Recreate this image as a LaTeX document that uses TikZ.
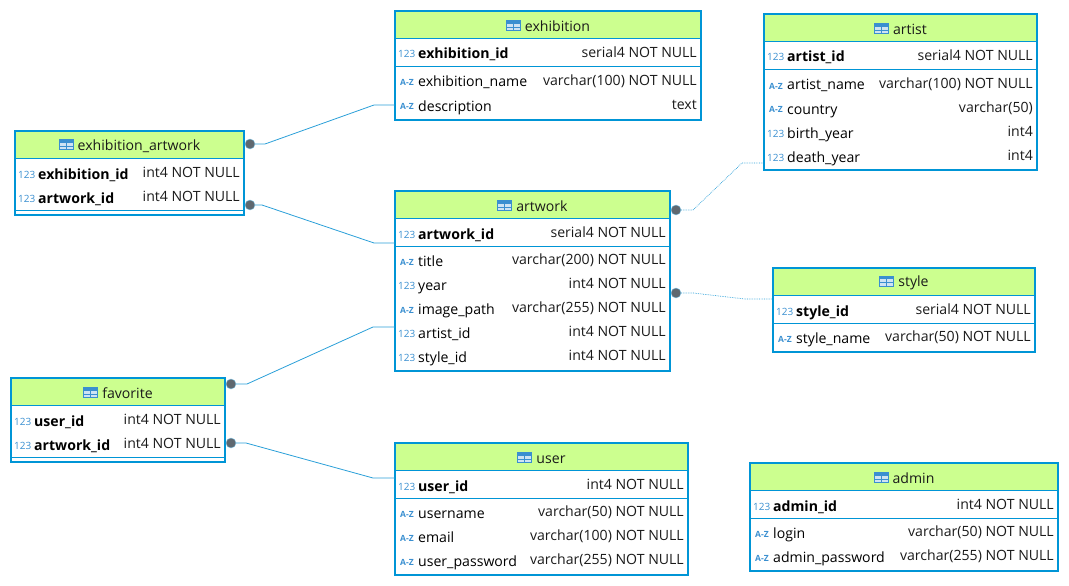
\documentclass[tikz,border=0pt]{standalone}
\usepackage{fontspec}
\setmainfont{Open Sans}
\usetikzlibrary{positioning, calc}
\definecolor{frameblue}{HTML}{0095D6}
\definecolor{headgreen}{HTML}{CCFF8F}
\definecolor{iconblue}{HTML}{3A8FD0}
\definecolor{linkblue}{HTML}{2A9FD8}
\definecolor{dotgrey}{HTML}{5F6870}
\definecolor{inkdark}{HTML}{1A1A1A}

\tikzset{
  tablehead/.style={rectangle, fill=headgreen, anchor=north west, minimum height=27pt, inner sep=0pt, outer sep=0pt},
  tabletitle/.style={inner sep=0pt, text=inkdark, font=\fontsize{14.1}{16}\selectfont},
  tableframe/.style={rectangle, draw=frameblue, line width=2.4pt, anchor=north west, inner sep=0pt, outer sep=0pt},
  rowline/.style={draw=frameblue, line width=0.9pt},
  colrow/.style={rectangle, anchor=west, minimum height=24pt, inner sep=0pt, outer sep=0pt},
  colname/.style={anchor=base west, inner sep=0pt, text=black, font=\fontsize{14.1}{16}\selectfont},
  coltype/.style={anchor=base east, inner sep=0pt, text=inkdark, font=\fontsize{14.1}{16}\selectfont},
  colicon/.style={anchor=base west, inner sep=0pt, text=iconblue},
  reldot/.style={circle, fill=dotgrey, draw=linkblue!60, line width=0.4pt, minimum size=10pt, inner sep=0pt},
  rel/.style={draw=linkblue, line width=0.8pt},
  reldotted/.style={draw=linkblue, line width=0.7pt, densely dotted},
}

\newcommand{\tblicon}{\tikz[baseline=-0.5pt,x=1pt,y=1pt]{\fill[iconblue!25] (0,0) rectangle (14,10); \fill[iconblue] (0,7) rectangle (14,10); \draw[iconblue, line width=1pt] (0,0) rectangle (14,10) (7,0) -- (7,7) (0,3.5) -- (14,3.5);}}
\newcommand{\numicon}{\fontsize{10}{10}\selectfont 123}
\newcommand{\azicon}{\hspace{2pt}\fontsize{8.5}{10}\selectfont\bfseries A-Z}

% name, left, top, right, bottom, title
\newcommand{\dbtable}[6]{
  \def\tblleft{#2}\def\tblright{#4}
  \node[tablehead, minimum width={(#4-#2)*1pt}] (#1-head) at (#2,#3) {};
  \node[tabletitle] (#1-title) at ([yshift=-1.5pt]#1-head.center) {\tblicon\hspace{4pt}#6};
  \node[tableframe, minimum width={(#4-#2)*1pt}, minimum height={(#5-#3)*1pt}] (#1) at (#2,#3) {};
  \draw[rowline] (#2,#3+27) -- (#4,#3+27);
}
% node name, row y, icon, column name, column type
\newcommand{\dbcol}[5]{
  \node[colrow, minimum width={(\tblright-\tblleft)*1pt}] (#1) at (\tblleft,#2) {};
  \node[colicon] (#1-icon) at (\tblleft+3,#2+4) {#3};
  \node[colname] (#1-name) at (\tblleft+23,#2+5) {#4};
  \node[coltype] (#1-type) at (\tblright-4,#2+3.5) {#5};
}

\begin{document}
\begin{tikzpicture}[x=1pt, y=-1pt]
  \useasboundingbox (0,0) rectangle (1069,586);

  \dbtable{exhibition}{395}{11}{701}{120}{exhibition}
  \draw[rowline] (395,66) -- (701,66);
  \dbcol{exhibition-1}{54}{\numicon}{\textbf{exhibition\_id}}{serial4 NOT NULL}
  \dbcol{exhibition-2}{82}{\azicon}{exhibition\_name}{varchar(100) NOT NULL}
  \dbcol{exhibition-3}{106}{\azicon}{description}{text}

  \dbtable{artist}{764}{14}{1037}{170}{artist}
  \draw[rowline] (764,69) -- (1037,69);
  \dbcol{artist-1}{57}{\numicon}{\textbf{artist\_id}}{serial4 NOT NULL}
  \dbcol{artist-2}{85}{\azicon}{artist\_name}{varchar(100) NOT NULL}
  \dbcol{artist-3}{109}{\azicon}{country}{varchar(50)}
  \dbcol{artist-4}{133}{\numicon}{birth\_year}{int4}
  \dbcol{artist-5}{157}{\numicon}{death\_year}{int4}

  \dbtable{exart}{15}{131}{244}{215}{exhibition\_artwork}
  \draw[rowline] (15,210) -- (244,210);
  \dbcol{exart-1}{174}{\numicon}{\textbf{exhibition\_id}}{int4 NOT NULL}
  \dbcol{exart-2}{198}{\numicon}{\textbf{artwork\_id}}{int4 NOT NULL}

  \dbtable{artwork}{395}{191}{670}{371}{artwork}
  \draw[rowline] (395,246) -- (670,246);
  \dbcol{artwork-1}{234}{\numicon}{\textbf{artwork\_id}}{serial4 NOT NULL}
  \dbcol{artwork-2}{261}{\azicon}{title}{varchar(200) NOT NULL}
  \dbcol{artwork-3}{285}{\numicon}{year}{int4 NOT NULL}
  \dbcol{artwork-4}{309}{\azicon}{image\_path}{varchar(255) NOT NULL}
  \dbcol{artwork-5}{333}{\numicon}{artist\_id}{int4 NOT NULL}
  \dbcol{artwork-6}{357}{\numicon}{style\_id}{int4 NOT NULL}

  \dbtable{style}{773}{268}{1035}{352}{style}
  \draw[rowline] (773,323) -- (1035,323);
  \dbcol{style-1}{311}{\numicon}{\textbf{style\_id}}{serial4 NOT NULL}
  \dbcol{style-2}{338}{\azicon}{style\_name}{varchar(50) NOT NULL}

  \dbtable{favorite}{11}{378}{225}{462}{favorite}
  \draw[rowline] (11,457) -- (225,457);
  \dbcol{favorite-1}{421}{\numicon}{\textbf{user\_id}}{int4 NOT NULL}
  \dbcol{favorite-2}{445}{\numicon}{\textbf{artwork\_id}}{int4 NOT NULL}

  \dbtable{user}{395}{443}{688}{575}{user}
  \draw[rowline] (395,498) -- (688,498);
  \dbcol{user-1}{486}{\numicon}{\textbf{user\_id}}{int4 NOT NULL}
  \dbcol{user-2}{513}{\azicon}{username}{varchar(50) NOT NULL}
  \dbcol{user-3}{537}{\azicon}{email}{varchar(100) NOT NULL}
  \dbcol{user-4}{561}{\azicon}{user\_password}{varchar(255) NOT NULL}

  \dbtable{admin}{750}{463}{1058}{571}{admin}
  \draw[rowline] (750,518) -- (1058,518);
  \dbcol{admin-1}{506}{\numicon}{\textbf{admin\_id}}{int4 NOT NULL}
  \dbcol{admin-2}{533}{\azicon}{login}{varchar(50) NOT NULL}
  \dbcol{admin-3}{557}{\azicon}{admin\_password}{varchar(255) NOT NULL}

  % relation dots
  \node[reldot] (dot-exart-1) at (250,144) {};
  \node[reldot] (dot-exart-2) at (250,205) {};
  \node[reldot] (dot-favorite-1) at (231,384) {};
  \node[reldot] (dot-favorite-2) at (231,443) {};
  \node[reldot] (dot-artwork-1) at (676,210) {};
  \node[reldot] (dot-artwork-2) at (676,293) {};

  \draw[rel] (dot-exart-1) -- ++(15,0) -- ([shift={(-21pt,1pt)}]exhibition-3.west) -- ([yshift=1pt]exhibition-3.west);
  \draw[rel] (dot-exart-2) -- ++(12,0) -- ([shift={(-21pt,-9pt)}]artwork-1.west) -- ([yshift=-9pt]artwork-1.west);
  \draw[rel] (dot-favorite-1) -- ++(16,0) -- ([shift={(-22pt,6pt)}]artwork-5.west) -- ([yshift=6pt]artwork-5.west);
  \draw[rel] (dot-favorite-2) -- ++(15,0) -- ([shift={(-22pt,8pt)}]user-1.west) -- ([yshift=8pt]user-1.west);
  \draw[reldotted] (dot-artwork-1) -- ++(17,0) -- ([shift={(-22pt,-6pt)}]artist-5.west) -- ([yshift=-6pt]artist-5.west);
  \draw[reldotted] (dot-artwork-2) -- ++(17,0) -- ([shift={(-28pt,12pt)}]style-1.west) -- ([yshift=12pt]style-1.west);
\end{tikzpicture}
\end{document}
